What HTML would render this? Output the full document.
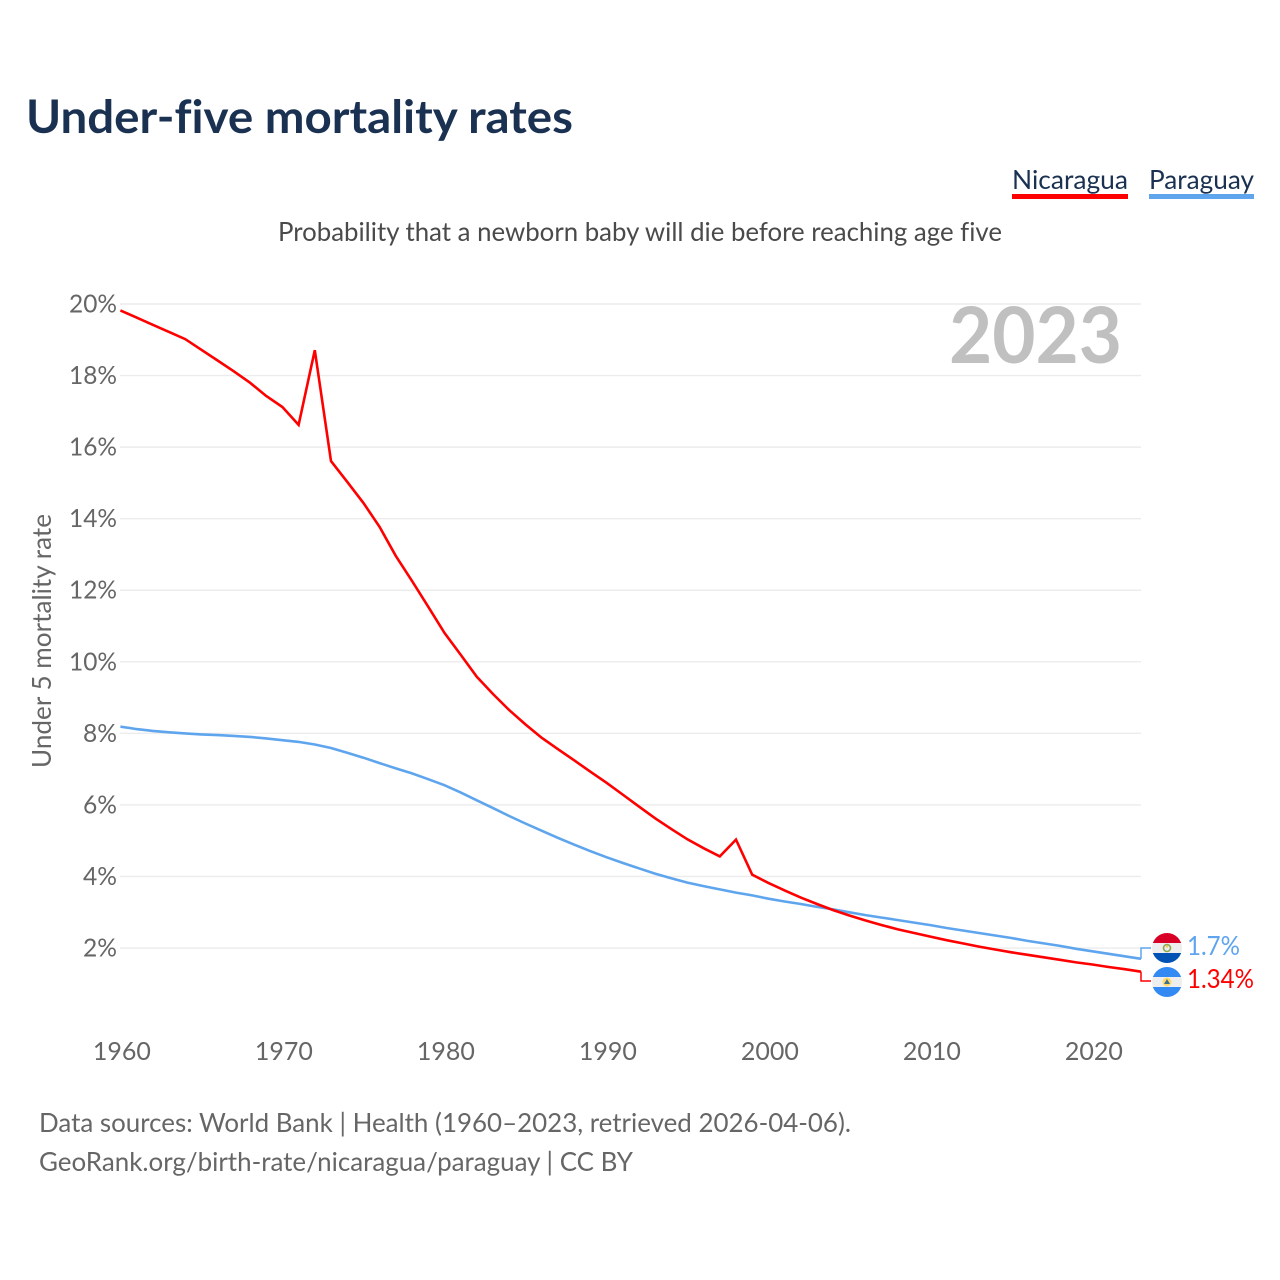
<!DOCTYPE html>
<html lang="en">
<head>
<meta charset="utf-8">
<title>Under-five mortality rates</title>
<style>
html,body{margin:0;padding:0;background:#fff;width:1280px;height:1280px;overflow:hidden}
svg{display:block}
text{font-family:"Lato","Carlito","Liberation Sans",sans-serif;font-variant-ligatures:none}
</style>
</head>
<body>
<svg id="chart" xmlns="http://www.w3.org/2000/svg" width="1280" height="1280" viewBox="0 0 1280 1280">
  <text x="26" y="133" font-size="46" font-weight="700" fill="#1a3152" textLength="547" lengthAdjust="spacingAndGlyphs">Under-five mortality rates</text>
  <g>
    <text x="1012" y="189" font-size="26" fill="#1a3152" textLength="116" lengthAdjust="spacingAndGlyphs">Nicaragua</text>
    <rect x="1012" y="194" width="116" height="5" fill="#ff0000"/>
  </g>
  <g>
    <text x="1149" y="189" font-size="26" fill="#1a3152" textLength="105" lengthAdjust="spacingAndGlyphs">Paraguay</text>
    <rect x="1149" y="194" width="105" height="5" fill="#5ea5ee"/>
  </g>
  <text x="278" y="241" font-size="26" fill="#4a4a4a" textLength="724" lengthAdjust="spacingAndGlyphs">Probability that a newborn baby will die before reaching age five</text>
  <g id="grid"></g>
  <text x="1122" y="363" text-anchor="end" font-size="78" font-weight="700" fill="#c0c0c0" textLength="173" lengthAdjust="spacingAndGlyphs">2023</text>
  <g id="yticks"></g>
  <g id="xticks"></g>
  <text transform="translate(51,768) rotate(-90)" font-size="26" fill="#666" textLength="254" lengthAdjust="spacingAndGlyphs">Under 5 mortality rate</text>
  <path id="line-paraguay" fill="none" stroke="#5ea5ee" stroke-width="2.6" stroke-linejoin="miter"/>
  <path id="line-nicaragua" fill="none" stroke="#ff0000" stroke-width="2.6" stroke-linejoin="miter"/>
  <path id="connector-paraguay" fill="none" stroke="#5ea5ee" stroke-width="1.5"/>
  <path id="connector-nicaragua" fill="none" stroke="#ff0000" stroke-width="1.5"/>
  <defs>
    <clipPath id="clip-py"><circle cx="1167" cy="948" r="15"/></clipPath>
    <clipPath id="clip-ni"><circle cx="1167" cy="982" r="15"/></clipPath>
  </defs>
  <g clip-path="url(#clip-py)">
    <rect x="1152" y="933" width="30" height="10" fill="#d80027"/>
    <rect x="1152" y="943" width="30" height="10" fill="#eeeeee"/>
    <rect x="1152" y="953" width="30" height="10" fill="#0052b4"/>
    <circle cx="1167" cy="948" r="3.5" fill="none" stroke="#8aa84f" stroke-width="1.6"/>
    <circle cx="1167" cy="946.5" r="1.2" fill="#f5c94f"/>
  </g>
  <g clip-path="url(#clip-ni)">
    <rect x="1152" y="967" width="30" height="10" fill="#338af3"/>
    <rect x="1152" y="977" width="30" height="10" fill="#eeeeee"/>
    <rect x="1152" y="987" width="30" height="10" fill="#338af3"/>
    <circle cx="1167" cy="982" r="4.5" fill="#ffda6b"/>
    <polygon points="1167,979 1170,984 1164,984" fill="#3d6f8f"/>
  </g>
  <text id="end-label-paraguay" x="1187" y="955" font-size="26" fill="#5ea5ee" textLength="53" lengthAdjust="spacingAndGlyphs"></text>
  <text id="end-label-nicaragua" x="1187" y="988" font-size="26" fill="#ff0000" textLength="67" lengthAdjust="spacingAndGlyphs"></text>
  <text x="39" y="1132" font-size="26" fill="#666" textLength="812" lengthAdjust="spacingAndGlyphs">Data sources: World Bank | Health (1960–2023, retrieved 2026-04-06).</text>
  <text x="39" y="1171" font-size="26" fill="#666" textLength="594" lengthAdjust="spacingAndGlyphs">GeoRank.org/birth-rate/nicaragua/paraguay | CC BY</text>
</svg>
<script>
const startYear = 1960;
const nicaragua = [19.82,19.62,19.42,19.22,19.02,18.72,18.42,18.12,17.8,17.43,17.12,16.62,18.71,15.61,15.03,14.44,13.77,12.96,12.26,11.54,10.81,10.2,9.58,9.1,8.65,8.25,7.88,7.56,7.25,6.93,6.62,6.29,5.96,5.63,5.33,5.04,4.79,4.56,5.03,4.05,3.82,3.61,3.41,3.23,3.06,2.91,2.77,2.64,2.52,2.42,2.32,2.22,2.13,2.04,1.96,1.88,1.81,1.74,1.67,1.6,1.54,1.47,1.41,1.34];
const paraguay = [8.19,8.12,8.07,8.03,8.0,7.97,7.95,7.93,7.9,7.86,7.81,7.76,7.69,7.59,7.46,7.32,7.17,7.02,6.88,6.72,6.55,6.35,6.13,5.91,5.69,5.48,5.28,5.08,4.89,4.71,4.54,4.38,4.23,4.08,3.95,3.83,3.73,3.64,3.55,3.47,3.38,3.3,3.23,3.15,3.08,3.0,2.92,2.85,2.78,2.71,2.64,2.56,2.49,2.42,2.35,2.28,2.2,2.13,2.06,1.98,1.91,1.84,1.77,1.7];
const yTickValues = [2,4,6,8,10,12,14,16,18,20];
const xTickValues = [1960,1970,1980,1990,2000,2010,2020];

const SVG_NS = 'http://www.w3.org/2000/svg';
function xScale(year) { return 120.4 + (year - startYear) * 16.2; }
function yScale(value) { return 304 + (20 - value) * 35.78; }
function linePath(series) {
  return series.map(function (v, i) {
    return (i ? 'L' : 'M') + xScale(startYear + i).toFixed(1) + ' ' + yScale(v).toFixed(1);
  }).join(' ');
}

const gridGroup = document.getElementById('grid');
const yGroup = document.getElementById('yticks');
const xGroup = document.getElementById('xticks');

yTickValues.forEach(function (v) {
  const line = document.createElementNS(SVG_NS, 'line');
  
  
  line.setAttribute('x1', 120);
  line.setAttribute('x2', 1141);
  line.setAttribute('y1', yScale(v));
  line.setAttribute('y2', yScale(v));
  line.setAttribute('stroke', '#ececec');
  line.setAttribute('stroke-width', '1.4');
  gridGroup.appendChild(line);

  const label = document.createElementNS(SVG_NS, 'text');
  
  
  label.setAttribute('x', 117);
  label.setAttribute('y', yScale(v) + 8.5);
  label.setAttribute('text-anchor', 'end');
  label.setAttribute('font-size', '25');
  label.setAttribute('fill', '#666');
  label.setAttribute('textLength', v >= 10 ? 48 : 34);
  label.setAttribute('lengthAdjust', 'spacingAndGlyphs');
  label.textContent = v + '%';
  yGroup.appendChild(label);
});

xTickValues.forEach(function (year) {
  const label = document.createElementNS(SVG_NS, 'text');
  
  
  label.setAttribute('x', xScale(year) + 1.5);
  label.setAttribute('y', 1060);
  label.setAttribute('text-anchor', 'middle');
  label.setAttribute('font-size', '25');
  label.setAttribute('fill', '#666');
  label.setAttribute('textLength', 58);
  label.setAttribute('lengthAdjust', 'spacingAndGlyphs');
  label.textContent = year;
  xGroup.appendChild(label);
});

document.getElementById('line-nicaragua').setAttribute('d', linePath(nicaragua));
document.getElementById('line-paraguay').setAttribute('d', linePath(paraguay));

const lastYear = startYear + nicaragua.length - 1;
const endX = xScale(lastYear);
const lastNi = nicaragua[nicaragua.length - 1];
const lastPy = paraguay[paraguay.length - 1];
document.getElementById('connector-paraguay').setAttribute('d', 'M' + endX + ' ' + yScale(lastPy) + ' V948 H1151');
document.getElementById('connector-nicaragua').setAttribute('d', 'M' + endX + ' ' + yScale(lastNi) + ' V981 H1151');
document.getElementById('end-label-paraguay').textContent = lastPy + '%';
document.getElementById('end-label-nicaragua').textContent = lastNi + '%';
</script>
</body>
</html>
